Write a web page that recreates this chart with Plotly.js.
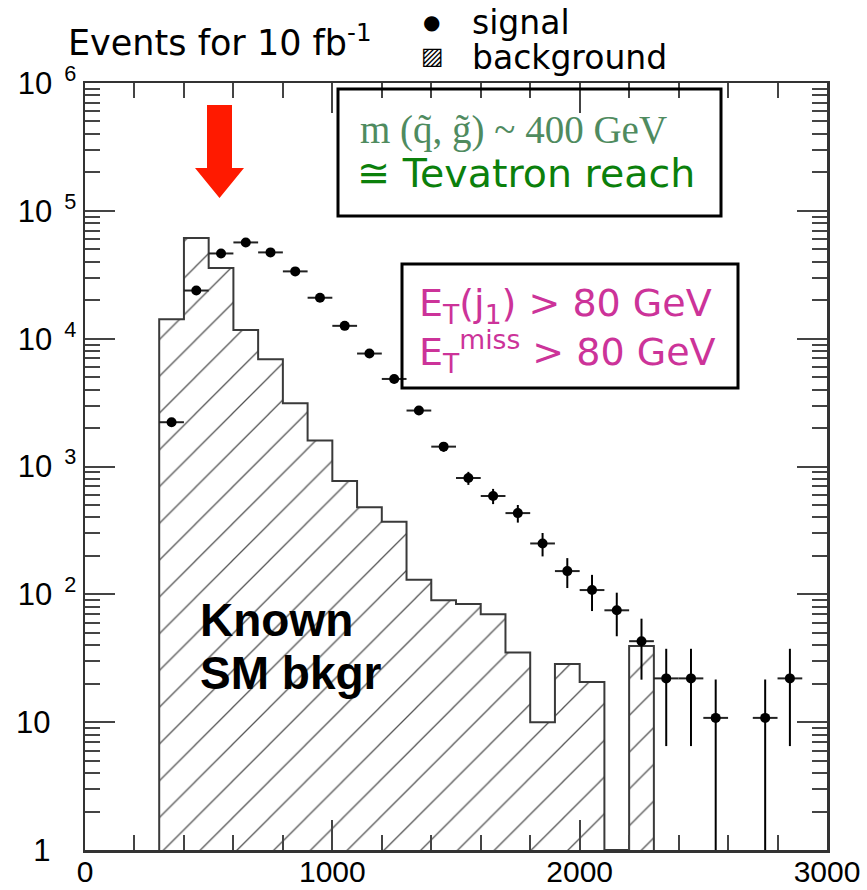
<!DOCTYPE html>
<html>
<head>
<meta charset="utf-8">
<script src="https://cdn.plot.ly/plotly-3.0.1.min.js"></script>
<style>html,body{margin:0;padding:0;background:#fff}</style>
</head>
<body>
<div id="chart" style="width:867px;height:890px"></div>
<script>
// ---- data ----------------------------------------------------------------
// SM background histogram, 100 GeV bins (low edges) and event counts
const bkgBinLow = [300, 400, 500, 600, 700, 800, 900, 1000, 1100, 1200,
                   1300, 1400, 1500, 1600, 1700, 1800, 1900, 2000, 2100, 2200];
const bkgCounts = [14200, 61200, 35700, 11700, 6900, 3130, 1600, 770, 479, 370,
                   130, 90, 84, 70, 35, 10, 28.5, 20.6, 0, 39.5];
const binWidth = 100;

// SUSY signal, bin centres, counts and statistical errors
const sigX   = [350, 450, 550, 650, 750, 850, 950, 1050, 1150, 1250,
                1350, 1450, 1550, 1650, 1750, 1850, 1950, 2050, 2150, 2250,
                2350, 2450, 2550, 2750, 2850];
const sigY   = [2220, 23800, 46400, 56600, 47300, 33600, 20900, 12600, 7650, 4840,
                2740, 1430, 813, 588, 432, 250, 152, 108, 75, 43,
                22, 22, 10.8, 10.8, 22];
const sigErr = [150, 510, 710, 780, 715, 600, 475, 370, 290, 230,
                170, 125, 95, 80, 68, 52, 40, 34, 28, 21.5,
                15.5, 15.5, 10.8, 10.8, 15.5];

// axis ticks
const xTickVals = [0, 1000, 2000, 3000];
const yTickVals = [1, 10, 100, 1e3, 1e4, 1e5, 1e6];
const yTickText = ['1\u00a0\u00a0\u00a0', '10\u00a0\u00a0\u00a0',
                   '10<sup>\u00a0\u00a02</sup>', '10<sup>\u00a0\u00a03</sup>',
                   '10<sup>\u00a0\u00a04</sup>', '10<sup>\u00a0\u00a05</sup>',
                   '10<sup>\u00a0\u00a06</sup>'];

// ---- layout helpers ------------------------------------------------------
const W = 867, H = 890;
const PL = 85, PR = 827, PT = 83, PB = 850;          // plot box in px
const px = p => (p - PL) / (PR - PL);                 // px -> paper x
const py = p => (PB - p) / (PB - PT);                 // px -> paper y

// background bar centres and step outline
const bkgCenters = bkgBinLow.map(e => e + binWidth / 2);
const stepX = [bkgBinLow[0]], stepY = [1];
bkgBinLow.forEach((e, i) => { stepX.push(e); stepY.push(bkgCounts[i] > 0 ? bkgCounts[i] : 1); });
stepX.push(bkgBinLow[bkgBinLow.length - 1] + binWidth); stepY.push(1);

const bkgBars = {
  type: 'bar', x: bkgCenters, y: bkgCounts, width: binWidth,
  marker: {
    color: 'white',
    line: {width: 0},
    pattern: {shape: '/', size: 26, solidity: 0.05, fgcolor: '#555', bgcolor: 'white', fillmode: 'replace'}
  },
  hoverinfo: 'x+y', showlegend: false
};

const bkgOutline = {
  type: 'scatter', mode: 'lines', x: stepX, y: stepY,
  line: {shape: 'hv', color: '#3a3a3a', width: 2},
  hoverinfo: 'skip', showlegend: false
};

const signal = {
  type: 'scatter', mode: 'markers', x: sigX, y: sigY,
  marker: {color: 'black', size: 10, symbol: 'circle'},
  error_y: {type: 'data', array: sigErr, visible: true, color: 'black', thickness: 2, width: 0},
  error_x: {type: 'constant', value: binWidth / 2, visible: true, color: '#222', thickness: 2, width: 0},
  showlegend: false
};

const comic = 'DejaVu Sans';
const frame = '#333';

const layout = {
  width: W, height: H,
  margin: {l: PL, r: W - PR, t: PT, b: H - PB, pad: 0},
  paper_bgcolor: 'white', plot_bgcolor: 'white',
  showlegend: false,
  bargap: 0,
  title: {
    text: 'Events for 10 fb<sup>-1</sup>',
    xref: 'container', yref: 'container',
    x: 68 / W, xanchor: 'left', y: 1 - 43 / H, yanchor: 'middle',
    font: {family: comic, size: 35, color: 'black'}
  },
  xaxis: {
    range: [0, 3000], tickmode: 'array', tickvals: xTickVals,
    ticks: 'inside', ticklen: 30, tickwidth: 2, tickcolor: '#444',
    minor: {ticks: 'inside', ticklen: 15, tickwidth: 2, tickcolor: '#444', dtick: 200, tick0: 0},
    showline: true, linecolor: frame, linewidth: 2.5, mirror: 'allticks',
    showgrid: false, zeroline: false, ticklabelstandoff: -7,
    tickfont: {family: 'Liberation Sans', size: 30, color: 'black'}
  },
  yaxis: {
    type: 'log', range: [0, 6], tickmode: 'array', tickvals: yTickVals, ticktext: yTickText,
    ticks: 'inside', ticklen: 30, tickwidth: 2, tickcolor: '#444',
    minor: {ticks: 'inside', ticklen: 15, tickwidth: 2, tickcolor: '#444', dtick: 'D1'},
    showline: true, linecolor: frame, linewidth: 2.5, mirror: 'allticks',
    showgrid: false, zeroline: false,
    tickfont: {family: 'Liberation Sans', size: 31, color: 'black'}
  },
  shapes: [
    // mass box
    {type: 'rect', xref: 'paper', yref: 'paper', x0: px(338), x1: px(721), y0: py(216), y1: py(89),
     line: {color: 'black', width: 3}, fillcolor: 'rgba(255,255,255,0)', layer: 'above'},
    // cuts box
    {type: 'rect', xref: 'paper', yref: 'paper', x0: px(402), x1: px(738), y0: py(388), y1: py(264),
     line: {color: 'black', width: 3}, fillcolor: 'rgba(255,255,255,0)', layer: 'above'},
    // red arrow pointing at the peak
    {type: 'path', xref: 'paper', yref: 'paper', layer: 'above',
     path: 'M' + px(207) + ',' + py(105) + ' L' + px(232) + ',' + py(105) +
           ' L' + px(232) + ',' + py(168) + ' L' + px(244) + ',' + py(168) +
           ' L' + px(219.5) + ',' + py(198) + ' L' + px(195) + ',' + py(168) +
           ' L' + px(207) + ',' + py(168) + ' Z',
     fillcolor: '#ff1a00', line: {width: 0}}
  ],
  annotations: [
    // legend
    {xref: 'paper', yref: 'paper', x: px(431), y: py(22), text: '\u25cf', showarrow: false,
     xanchor: 'center', yanchor: 'middle', font: {family: 'DejaVu Sans', size: 20, color: 'black'}},
    {xref: 'paper', yref: 'paper', x: px(432), y: py(56), text: '\u25a8', showarrow: false,
     xanchor: 'center', yanchor: 'middle', font: {family: 'DejaVu Sans', size: 24, color: 'black'}},
    {xref: 'paper', yref: 'paper', x: px(470), y: py(22), text: 'signal', showarrow: false,
     xanchor: 'left', yanchor: 'middle', font: {family: comic, size: 33, color: 'black'}},
    {xref: 'paper', yref: 'paper', x: px(470), y: py(58), text: 'background', showarrow: false,
     xanchor: 'left', yanchor: 'middle', font: {family: comic, size: 33, color: 'black'}},
    // mass box text
    {xref: 'paper', yref: 'paper', x: px(358), y: py(130), text: 'm (q\u0303, g\u0303) ~ 400 GeV',
     showarrow: false, xanchor: 'left', yanchor: 'middle',
     font: {family: 'Liberation Serif', size: 39, color: '#4f8b5f'}},
    {xref: 'paper', yref: 'paper', x: px(355), y: py(173), text: '\u2245 Tevatron reach',
     showarrow: false, xanchor: 'left', yanchor: 'middle',
     font: {family: comic, size: 39.5, color: '#0b800b'}},
    // cut text
    {xref: 'paper', yref: 'paper', x: px(417), y: py(305), text: 'E<sub>T</sub>(j<sub>1</sub>) &gt; 80 GeV',
     showarrow: false, xanchor: 'left', yanchor: 'middle',
     font: {family: comic, size: 38, color: '#cc3399'}},
    {xref: 'paper', yref: 'paper', x: px(417), y: py(352), text: 'E<sub>T</sub><sup>miss</sup> &gt; 80 GeV',
     showarrow: false, xanchor: 'left', yanchor: 'middle',
     font: {family: comic, size: 38, color: '#cc3399'}},
    // background label
    {xref: 'paper', yref: 'paper', x: px(198), y: py(620), text: '<b>Known</b>',
     showarrow: false, xanchor: 'left', yanchor: 'middle',
     font: {family: 'Liberation Sans', size: 46, color: 'black'}},
    {xref: 'paper', yref: 'paper', x: px(198), y: py(673), text: '<b>SM bkgr</b>',
     showarrow: false, xanchor: 'left', yanchor: 'middle',
     font: {family: 'Liberation Sans', size: 46, color: 'black'}}
  ]
};

Plotly.newPlot('chart', [bkgBars, bkgOutline, signal], layout, {displayModeBar: false, staticPlot: true});
</script>
</body>
</html>
